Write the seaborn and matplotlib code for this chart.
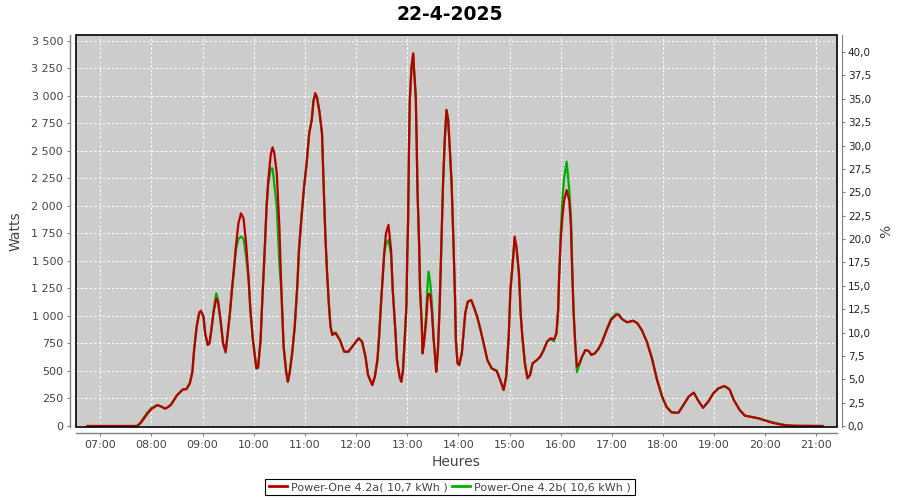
import numpy as np
import pandas as pd
import matplotlib
matplotlib.use("Agg")
import matplotlib.pyplot as plt
import matplotlib.dates as mdates
from matplotlib.ticker import FuncFormatter, MultipleLocator
from matplotlib.patches import Rectangle
from matplotlib.lines import Line2D
import seaborn as sns

title = "22-4-2025"
series_names = ["Power-One 4.2a( 10,7 kWh )", "Power-One 4.2b( 10,6 kWh )"]

times = ["06:45", "07:00", "07:30", "07:43", "07:47", "07:50", "07:55", "08:00", "08:02", "08:07",
         "08:12", "08:16", "08:20", "08:23", "08:30", "08:37", "08:41", "08:45", "08:48", "08:50",
         "08:53", "08:56", "08:58", "09:01", "09:03", "09:06", "09:08", "09:10", "09:13", "09:16",
         "09:18", "09:21", "09:24", "09:27", "09:29", "09:32", "09:34", "09:37", "09:39", "09:42",
         "09:45", "09:48", "09:51", "09:54", "09:56", "09:59", "10:03", "10:05", "10:08", "10:10",
         "10:13", "10:15", "10:17", "10:20", "10:22", "10:24", "10:27", "10:30", "10:33", "10:35",
         "10:38", "10:40", "10:42", "10:45", "10:48", "10:51", "10:53", "10:56", "10:59", "11:02",
         "11:05", "11:08", "11:10", "11:12", "11:14", "11:17", "11:20", "11:22", "11:24", "11:26",
         "11:28", "11:30", "11:32", "11:36", "11:41", "11:46", "11:51", "11:57", "12:03", "12:07",
         "12:11", "12:14", "12:19", "12:22", "12:25", "12:27", "12:29", "12:31", "12:33", "12:35",
         "12:38", "12:41", "12:43", "12:46", "12:48", "12:51", "12:53", "12:55", "12:57", "12:59",
         "13:00", "13:01", "13:02", "13:03", "13:05", "13:07", "13:08", "13:10", "13:11", "13:12",
         "13:14", "13:15", "13:17", "13:18", "13:20", "13:22", "13:24", "13:25", "13:27", "13:29",
         "13:31", "13:33", "13:34", "13:36", "13:38", "13:40", "13:42", "13:44", "13:46", "13:48",
         "13:50", "13:52", "13:54", "13:56", "13:57", "13:59", "14:01", "14:04", "14:06", "14:08",
         "14:11", "14:15", "14:18", "14:22", "14:26", "14:30", "14:34", "14:39", "14:45", "14:49",
         "14:53", "14:56", "14:59", "15:01", "15:04", "15:06", "15:08", "15:11", "15:13", "15:15",
         "15:18", "15:21", "15:24", "15:27", "15:32", "15:36", "15:40", "15:44", "15:48", "15:52",
         "15:55", "15:57", "15:58", "16:00", "16:02", "16:04", "16:07", "16:10", "16:12", "16:13",
         "16:15", "16:17", "16:19", "16:22", "16:25", "16:29", "16:33", "16:36", "16:40", "16:44",
         "16:48", "16:54", "16:59", "17:05", "17:08", "17:11", "17:14", "17:18", "17:25", "17:30",
         "17:35", "17:41", "17:47", "17:53", "17:59", "18:04", "18:10", "18:18", "18:24", "18:30",
         "18:36", "18:42", "18:47", "18:53", "18:59", "19:05", "19:12", "19:18", "19:23", "19:30",
         "19:36", "19:44", "19:52", "20:00", "20:08", "20:17", "20:25", "20:35", "21:07"]

watts_a = [0, 0, 0, 0, 25, 55, 110, 155, 165, 190,
           175, 158, 175, 195, 280, 333, 335, 388, 493, 690,
           902, 1029, 1047, 993, 842, 736, 751, 857, 1038, 1160,
           1129, 963, 751, 675, 811, 1024, 1205, 1447, 1629, 1841,
           1932, 1886, 1660, 1326, 1054, 781, 524, 530, 781, 1144,
           1629, 1992, 2234, 2470, 2531, 2480, 2295, 1810, 1083, 720,
           493, 402, 479, 660, 902, 1265, 1599, 1901, 2173, 2386,
           2658, 2779, 2950, 3024, 2990, 2855, 2658, 2173, 1720, 1387,
           1115, 902, 827, 842, 781, 675, 675, 736, 797, 766,
           629, 463, 372, 448, 599, 811, 1083, 1326, 1568, 1750,
           1826, 1599, 1235, 872, 599, 448, 402, 509, 781, 1083,
           1538, 1871, 2507, 2961, 3264, 3385, 3233, 2991, 2598, 2143,
           1629, 1235, 933, 660, 781, 933, 1174, 1200, 1190, 1024,
           781, 599, 493, 690, 1083, 1629, 2204, 2598, 2870, 2779,
           2507, 2204, 1720, 1174, 781, 569, 554, 660, 842, 1024,
           1129, 1144, 1083, 993, 872, 736, 599, 524, 500, 418,
           327, 448, 811, 1235, 1508, 1720, 1629, 1387, 1024, 811,
           569, 433, 463, 569, 599, 629, 690, 766, 797, 787,
           842, 1054, 1326, 1690, 1900, 2050, 2143, 2050, 1810, 1508,
           1054, 751, 539, 569, 629, 690, 680, 645, 660, 697,
           751, 872, 963, 1008, 1010, 978, 960, 942, 956, 933,
           872, 766, 615, 418, 266, 175, 124, 120, 191, 266,
           303, 221, 166, 221, 297, 342, 363, 333, 236, 145,
           94, 82, 70, 48, 30, 15, 6, 2, 0]

watts_b = [0, 0, 0, 0, 30, 65, 120, 165, 170, 190,
           175, 158, 175, 195, 280, 333, 335, 388, 493, 690,
           902, 1029, 1040, 993, 842, 736, 751, 857, 1060, 1205,
           1150, 963, 751, 665, 811, 1024, 1205, 1447, 1600, 1700,
           1720, 1700, 1538, 1326, 1054, 781, 524, 530, 781, 1144,
           1629, 1992, 2200, 2340, 2340, 2200, 1992, 1480, 1150, 720,
           493, 402, 479, 660, 902, 1265, 1599, 1901, 2173, 2386,
           2658, 2779, 2950, 3000, 2990, 2855, 2658, 2173, 1720, 1387,
           1115, 902, 840, 850, 781, 675, 675, 736, 797, 766,
           629, 463, 372, 448, 599, 811, 1083, 1326, 1568, 1650,
           1690, 1560, 1235, 872, 599, 448, 402, 509, 781, 1083,
           1538, 1871, 2507, 2961, 3264, 3370, 3233, 2991, 2598, 2143,
           1629, 1235, 933, 660, 800, 1000, 1300, 1402, 1300, 1100,
           781, 599, 493, 690, 1083, 1629, 2204, 2598, 2870, 2779,
           2507, 2204, 1720, 1174, 781, 569, 554, 660, 842, 1024,
           1129, 1144, 1083, 993, 872, 736, 599, 524, 500, 418,
           327, 448, 811, 1235, 1508, 1700, 1629, 1387, 1024, 811,
           569, 433, 463, 569, 599, 629, 690, 766, 790, 770,
           842, 1054, 1326, 1750, 2050, 2250, 2400, 2143, 1900, 1600,
           1054, 751, 490, 560, 629, 690, 680, 645, 660, 697,
           760, 880, 975, 1020, 1015, 980, 960, 942, 956, 933,
           872, 766, 615, 418, 266, 175, 124, 120, 191, 266,
           303, 221, 166, 221, 297, 342, 363, 333, 236, 145,
           94, 82, 70, 52, 35, 18, 6, 2, 0]

pct_ticks = [0, 2.5, 5, 7.5, 10, 12.5, 15, 17.5, 20, 22.5, 25, 27.5, 30, 32.5, 35, 37.5, 40]

red = "#b80000"
green = "#00b000"

day = "2025-04-22 "
t = pd.to_datetime([day + s for s in times])
df_a = pd.DataFrame({"time": t, "watts": watts_a})
df_b = pd.DataFrame({"time": t, "watts": watts_b})

fig = plt.figure(figsize=(9, 5), dpi=100)
ax = fig.add_axes([75.5 / 900, 1 - 427 / 500, (836.7 - 75.5) / 900, 392 / 500])
ax.set_facecolor("#cccccc")

sns.lineplot(data=df_b, x="time", y="watts", ax=ax, color=green, lw=1.6, legend=False, zorder=3)
sns.lineplot(data=df_a, x="time", y="watts", ax=ax, color=red, lw=1.6, legend=False, zorder=4)

ax.set_xlim(pd.Timestamp(day + "06:30:54"), pd.Timestamp(day + "21:23:42"))
ax.set_ylim(-9, 3551)
ax.yaxis.set_major_locator(MultipleLocator(250))
ax.yaxis.set_major_formatter(FuncFormatter(lambda v, p: f"{v:,.0f}".replace(",", "\u00a0")))
ax.xaxis.set_major_locator(mdates.HourLocator())
ax.xaxis.set_major_formatter(mdates.DateFormatter("%H:%M"))

ax.grid(True, color="white", linestyle=(0, (2, 2)), linewidth=0.8)
ax.set_axisbelow(True)

for s in ["top", "right"]:
    ax.spines[s].set_visible(False)
for s in ["left", "bottom"]:
    ax.spines[s].set_position(("outward", 4))
    ax.spines[s].set_color("#808080")
    ax.spines[s].set_linewidth(1)
ax.tick_params(axis="both", length=2, width=0.8, color="#808080", labelsize=8, labelcolor="#444444", pad=3)

ax.set_xlabel("Heures", fontsize=10, color="#444444", labelpad=4)
ax.set_ylabel("Watts", fontsize=10, color="#444444", labelpad=6)

ax2 = ax.twinx()
ax2.set_ylim(-0.107, 41.82)
ax2.set_yticks(pct_ticks)
ax2.yaxis.set_major_formatter(FuncFormatter(lambda v, p: f"{v:.1f}".replace(".", ",")))
for s in ["top", "left", "bottom"]:
    ax2.spines[s].set_visible(False)
ax2.spines["right"].set_position(("outward", 4))
ax2.spines["right"].set_color("#808080")
ax2.tick_params(axis="y", length=2, width=0.8, color="#808080", labelsize=7.5, labelcolor="#222222", pad=2)
ax2.set_ylabel("%", fontsize=10, color="#444444", labelpad=6)

ax2.add_patch(Rectangle((0, 0), 1, 1, transform=ax2.transAxes, fill=False,
                        edgecolor="black", lw=1.2, clip_on=False, zorder=10))

fig.text(0.5, 1 - 14 / 500, title, ha="center", va="center", fontsize=13.5,
         fontweight="bold", color="black")

handles = [Line2D([], [], color=red, lw=2), Line2D([], [], color=green, lw=2)]
leg = fig.legend(handles, series_names, loc="center", bbox_to_anchor=(0.5, 1 - 487 / 500),
                 ncol=2, fontsize=8, frameon=True, fancybox=False, framealpha=1,
                 edgecolor="black", handlelength=1.6, handletextpad=0.4, columnspacing=0.4,
                 borderpad=0.3)
leg.get_frame().set_linewidth(0.8)
for txt in leg.get_texts():
    txt.set_color("#444444")

fig.savefig("out.png", dpi=100)
